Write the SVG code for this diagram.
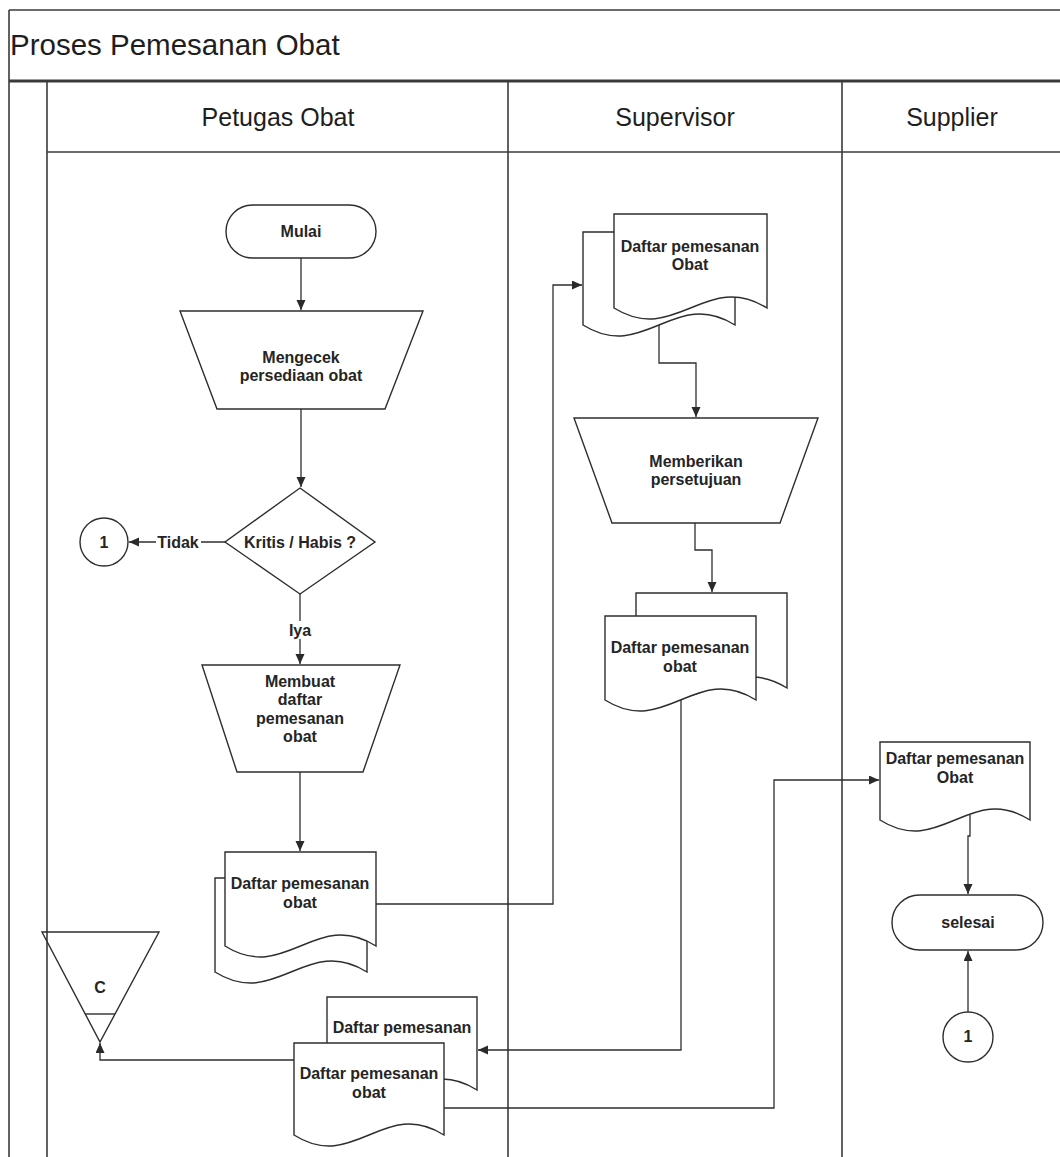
<svg xmlns="http://www.w3.org/2000/svg" width="1060" height="1157" viewBox="0 0 1060 1157">
  <defs>
    <marker id="arrow" markerWidth="11" markerHeight="10" refX="10" refY="4.5" orient="auto" markerUnits="userSpaceOnUse">
      <path d="M0,0 L10,4.5 L0,9 z" fill="#2a2a2a"/>
    </marker>
  </defs>
  <style>
    .frame { stroke: #3a3a3a; stroke-width: 1.6; fill: none; }
    .thick { stroke: #3a3a3a; stroke-width: 3; fill: none; }
    .shape { fill: #ffffff; stroke: #2e2e2e; stroke-width: 1.4; }
    .open { fill: none; stroke: #2e2e2e; stroke-width: 1.4; }
    .conn { fill: none; stroke: #2e2e2e; stroke-width: 1.3; }
    .title { font-family: "Liberation Sans", Arial, sans-serif; font-size: 29.5px; fill: #1e1e1e; }
    .lane { font-family: "Liberation Sans", Arial, sans-serif; font-size: 25px; fill: #1e1e1e; text-anchor: middle; }
    .lbl { font-family: "Liberation Sans", Arial, sans-serif; font-size: 16px; font-weight: bold; fill: #252525; text-anchor: middle; }
  </style>

  <rect width="1060" height="1157" fill="#ffffff"/>

  <!-- swimlane frame -->
  <g id="lanes">
    <line class="frame" x1="9" y1="10" x2="1060" y2="10"/>
    <line class="thick" x1="9" y1="81" x2="1060" y2="81"/>
    <line class="frame" x1="47" y1="152" x2="1060" y2="152"/>
    <line class="frame" x1="9" y1="10" x2="9" y2="1157"/>
    <line class="frame" x1="47" y1="81" x2="47" y2="1157"/>
    <line class="frame" x1="508" y1="81" x2="508" y2="1157"/>
    <line class="frame" x1="842" y1="81" x2="842" y2="1157"/>
    <text class="title" x="10" y="55">Proses Pemesanan Obat</text>
    <text class="lane" x="278" y="126">Petugas Obat</text>
    <text class="lane" x="675" y="126">Supervisor</text>
    <text class="lane" x="952" y="126">Supplier</text>
  </g>

  <!-- connectors -->
  <g id="connectors">
    <path class="conn" d="M301,258 V310" marker-end="url(#arrow)"/>
    <path class="conn" d="M301,409 V487" marker-end="url(#arrow)"/>
    <path class="conn" d="M225,542 H129" marker-end="url(#arrow)"/>
    <path class="conn" d="M300,594 V664" marker-end="url(#arrow)"/>
    <path class="conn" d="M300,772 V851" marker-end="url(#arrow)"/>
    <path class="conn" d="M376,904 H553 V285 H582" marker-end="url(#arrow)"/>
    <path class="conn" d="M659,325 V363 H696 V417" marker-end="url(#arrow)"/>
    <path class="conn" d="M695,523 V550 H712 V592" marker-end="url(#arrow)"/>
    <path class="conn" d="M681,700 V1050 H478" marker-end="url(#arrow)"/>
    <path class="conn" d="M294,1060 H100 V1043" marker-end="url(#arrow)"/>
    <path class="conn" d="M444,1108 H774 V780 H879" marker-end="url(#arrow)"/>
    <path class="conn" d="M970,815 V836 H968 V894" marker-end="url(#arrow)"/>
    <path class="conn" d="M968,1012 V951" marker-end="url(#arrow)"/>
    <!-- branch labels -->
    <rect x="156" y="534" width="45" height="16" fill="#ffffff"/>
    <text class="lbl" x="178" y="548">Tidak</text>
    <rect x="287" y="621" width="26" height="18" fill="#ffffff"/>
    <text class="lbl" x="300" y="636">Iya</text>
  </g>

  <!-- Petugas Obat lane -->
  <g id="mulai">
    <rect class="shape" x="226" y="205" width="150" height="53" rx="26.5"/>
    <text class="lbl" x="301" y="237">Mulai</text>
  </g>
  <g id="cek-persediaan">
    <polygon class="shape" points="180,311 423,311 385,409 217,409"/>
    <text class="lbl" x="301" y="363">Mengecek</text>
    <text class="lbl" x="301" y="381">persediaan obat</text>
  </g>
  <g id="kritis">
    <polygon class="shape" points="300,488 375,542 300,594 225,542"/>
    <text class="lbl" x="300" y="548">Kritis / Habis ?</text>
  </g>
  <g id="konektor-1a">
    <circle class="shape" cx="104" cy="542" r="24"/>
    <text class="lbl" x="104" y="548">1</text>
  </g>
  <g id="buat-daftar">
    <polygon class="shape" points="202,665 400,665 363,772 237,772"/>
    <text class="lbl" x="300" y="687">Membuat</text>
    <text class="lbl" x="300" y="705">daftar</text>
    <text class="lbl" x="300" y="724">pemesanan</text>
    <text class="lbl" x="300" y="742">obat</text>
  </g>
  <g id="daftar-petugas">
    <path class="shape" d="M215,878 H367 V972 C306.2,934 275.8,1010 215,972 Z"/>
    <path class="shape" d="M225,852 H376 V946 C315.6,908 285.4,984 225,946 Z"/>
    <text class="lbl" x="300" y="889">Daftar pemesanan</text>
    <text class="lbl" x="300" y="908">obat</text>
  </g>
  <g id="arsip-c">
    <polygon class="open" points="42,932 159,932 100,1042"/>
    <line class="open" x1="85" y1="1014" x2="115" y2="1014"/>
    <text class="lbl" x="100" y="993">C</text>
  </g>
  <g id="daftar-arsip">
    <path class="shape" d="M327,997 H477 V1090 C417,1052 387,1128 327,1090 Z"/>
    <text class="lbl" x="402" y="1033">Daftar pemesanan</text>
    <path class="shape" d="M294,1043 H444 V1135 C384,1097 354,1173 294,1135 Z"/>
    <text class="lbl" x="369" y="1079">Daftar pemesanan</text>
    <text class="lbl" x="369" y="1098">obat</text>
  </g>

  <!-- Supervisor lane -->
  <g id="daftar-supervisor-1">
    <path class="shape" d="M583,232 H735 V325 C674.2,287 643.8,363 583,325 Z"/>
    <path class="shape" d="M614,214 H767 V308 C705.8,270 675.2,346 614,308 Z"/>
    <text class="lbl" x="690" y="252">Daftar pemesanan</text>
    <text class="lbl" x="690" y="270">Obat</text>
  </g>
  <g id="persetujuan">
    <polygon class="shape" points="574,418 818,418 780,523 612,523"/>
    <text class="lbl" x="696" y="467">Memberikan</text>
    <text class="lbl" x="696" y="485">persetujuan</text>
  </g>
  <g id="daftar-supervisor-2">
    <path class="shape" d="M636,593 H787 V688 C726.6,650 696.4,726 636,688 Z"/>
    <path class="shape" d="M605,616 H756 V700 C695.6,662 665.4,738 605,700 Z"/>
    <text class="lbl" x="680" y="653">Daftar pemesanan</text>
    <text class="lbl" x="680" y="672">obat</text>
  </g>

  <!-- Supplier lane -->
  <g id="daftar-supplier">
    <path class="shape" d="M880,742 H1030 V820 C970,782 940,858 880,820 Z"/>
    <text class="lbl" x="955" y="764">Daftar pemesanan</text>
    <text class="lbl" x="955" y="783">Obat</text>
  </g>
  <g id="selesai">
    <rect class="shape" x="892" y="895" width="151" height="55" rx="27.5"/>
    <text class="lbl" x="968" y="928">selesai</text>
  </g>
  <g id="konektor-1b">
    <circle class="shape" cx="968" cy="1037" r="25"/>
    <text class="lbl" x="968" y="1042">1</text>
  </g>
</svg>
